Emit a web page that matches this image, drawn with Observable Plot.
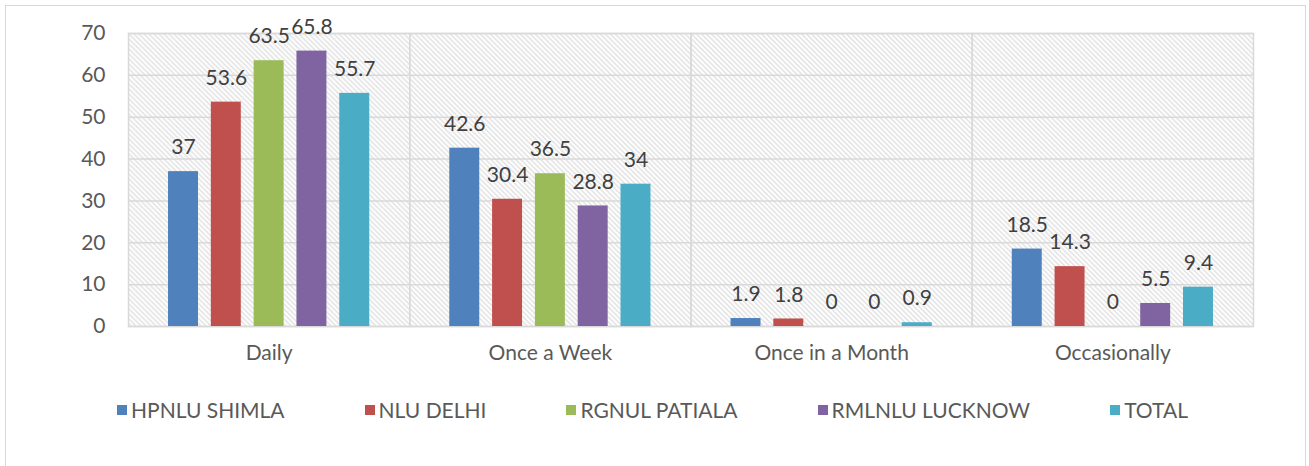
<!DOCTYPE html>
<html>
<head>
<meta charset="utf-8">
<script src="https://cdn.jsdelivr.net/npm/d3@7"></script>
<script src="https://cdn.jsdelivr.net/npm/@observablehq/plot@0.6"></script>
<style>
  body { margin: 0; background: #fff; font-family: Lato, "Open Sans", sans-serif; }
  #wrap { position: relative; width: 1309px; height: 466px; overflow: hidden; }
  #border { position: absolute; left: 5px; top: 5px; width: 1301px; height: 480px; border: 1px solid #d9d9d9; box-sizing: border-box; }
  #chart { position: absolute; left: 0; top: 0; }
  #legend { position: absolute; left: 117px; top: 397px; display: flex; gap: 80px; font-size: 21px; color: #595959; align-items: center; }
  .item { display: flex; align-items: center; white-space: nowrap; }
  .sw { width: 10px; height: 10px; margin-right: 4px; display: inline-block; }
</style>
</head>
<body>
<div id="wrap">
  <div id="border"></div>
  <div id="chart"></div>
  <div id="legend"></div>
</div>
<script>
const categories = ["Daily", "Once a Week", "Once in a Month", "Occasionally"];
const seriesNames = ["HPNLU SHIMLA", "NLU DELHI", "RGNUL PATIALA", "RMLNLU LUCKNOW", "TOTAL"];
const seriesColors = ["#4f81bd", "#c0504d", "#9bbb59", "#8064a2", "#4bacc6"];
const hpnluShimla = [37, 42.6, 1.9, 18.5];
const nluDelhi = [53.6, 30.4, 1.8, 14.3];
const rgnulPatiala = [63.5, 36.5, 0, 0];
const rmlnluLucknow = [65.8, 28.8, 0, 5.5];
const total = [55.7, 34, 0.9, 9.4];
const yTicks = [0, 10, 20, 30, 40, 50, 60, 70];

const seriesValues = [hpnluShimla, nluDelhi, rgnulPatiala, rmlnluLucknow, total];
const data = [];
categories.forEach((c, i) => {
  seriesNames.forEach((s, j) => {
    data.push({category: c, series: s, value: seriesValues[j][i]});
  });
});

const chart = Plot.plot({
  width: 1309,
  height: 380,
  marginLeft: 128,
  marginRight: 56,
  marginTop: 33,
  marginBottom: 54,
  style: {fontFamily: "Lato, 'Open Sans', sans-serif", color: "#595959", background: "transparent"},
  fx: {domain: categories, padding: 0, label: null, round: false},
  x: {domain: seriesNames, paddingInner: 0.3, paddingOuter: 0.935, round: false, axis: null},
  y: {domain: [0, 70], label: null},
  color: {domain: seriesNames, range: seriesColors},
  marks: [
    Plot.frame({fill: "url(#hatch)", stroke: null}),
    Plot.ruleY(yTicks, {stroke: "#d9d9d9", strokeWidth: 1.5}),
    Plot.frame({stroke: "#d9d9d9", strokeWidth: 1.5}),
    Plot.axisY(yTicks, {tickSize: 0, tickPadding: 23, fontSize: 21, label: null, fill: "#595959"}),
    Plot.axisFx({anchor: "bottom", tickSize: 0, tickPadding: 19, fontSize: 21, label: null, fill: "#595959"}),
    Plot.barY(data, {fx: "category", x: "series", y: "value", fill: "series"}),
    Plot.text(data, {fx: "category", x: "series", y: "value", text: d => String(d.value),
      dy: -24, lineAnchor: "middle", fontSize: 21, fill: "#404040"})
  ]
});

const defs = d3.select(chart).insert("defs", ":first-child");
const pat = defs.append("pattern").attr("id", "hatch").attr("patternUnits", "userSpaceOnUse")
  .attr("width", 5).attr("height", 5);
pat.append("rect").attr("width", 5).attr("height", 5).attr("fill", "#ffffff");
pat.append("path").attr("d", "M-1,-1 L6,6 M-1,4 L1,6 M4,-1 L6,1")
  .attr("stroke", "#d6d6d6").attr("stroke-width", 1.1);

document.getElementById("chart").appendChild(chart);

const legend = document.getElementById("legend");
seriesNames.forEach((s, i) => {
  const it = document.createElement("div");
  it.className = "item";
  const sw = document.createElement("span");
  sw.className = "sw";
  sw.style.background = seriesColors[i];
  it.appendChild(sw);
  it.appendChild(document.createTextNode(s));
  legend.appendChild(it);
});
</script>
</body>
</html>
